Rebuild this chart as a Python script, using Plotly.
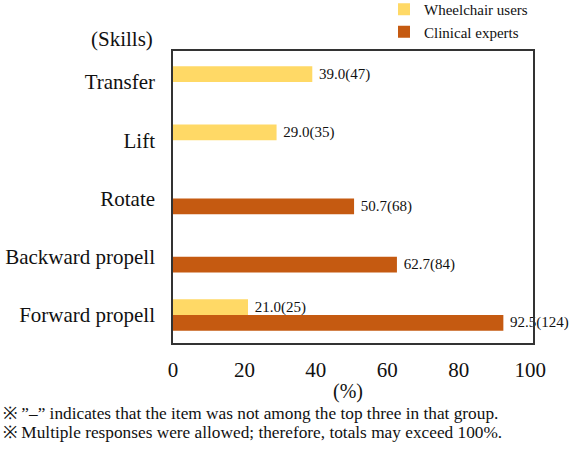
import plotly.graph_objects as go

skills = ["Forward propell", "Backward propell", "Rotate", "Lift", "Transfer"]
wheelchair_pct = [21.0, None, None, 29.0, 39.0]
wheelchair_n = [25, None, None, 35, 47]
expert_pct = [92.5, 62.7, 50.7, None, None]
expert_n = [124, 84, 68, None, None]

def labels(p, n):
    return ["\u00a0" + f"{a:.1f}({b})" if a is not None else "" for a, b in zip(p, n)]

FONT = "Liberation Serif, Times New Roman, serif"
YELLOW = "#FFD966"
ORANGE = "#C55A11"

fig = go.Figure()
fig.add_trace(go.Bar(
    y=skills, x=expert_pct, orientation="h", name="Clinical experts",
    marker=dict(color=ORANGE, line=dict(width=0)),
    text=labels(expert_pct, expert_n), textposition="outside",
    textfont=dict(family=FONT, size=15, color="#111"),
    cliponaxis=False, constraintext="none", legendrank=2,
))
fig.add_trace(go.Bar(
    y=skills, x=wheelchair_pct, orientation="h", name="Wheelchair users",
    marker=dict(color=YELLOW, line=dict(width=0)),
    text=labels(wheelchair_pct, wheelchair_n), textposition="outside",
    textfont=dict(family=FONT, size=15, color="#111"),
    cliponaxis=False, constraintext="none", legendrank=1,
))

W, H = 569, 459
L, R, T, B = 173, 36, 51, 116
pw, ph = W - L - R, H - T - B

def px(x):
    return (x - L) / pw

def py(y):
    return (H - B - y) / ph

fig.update_layout(
    width=W, height=H,
    margin=dict(l=L, r=R, t=T, b=B, autoexpand=False),
    paper_bgcolor="white", plot_bgcolor="white",
    barmode="group", bargap=0.46, bargroupgap=0,
    font=dict(family=FONT, color="#111"),
    showlegend=True,
    legend=dict(x=px(384), y=py(-7), xanchor="left", yanchor="top",
                font=dict(family=FONT, size=15), bgcolor="rgba(0,0,0,0)",
                traceorder="normal"),
    xaxis=dict(range=[0, 100.8], tickvals=[0, 20, 40, 60, 80, 100],
               showgrid=False, zeroline=False, showline=True, mirror=True,
               linecolor="#333", linewidth=1.5, ticks="",
               tickfont=dict(family=FONT, size=21), ticklabelstandoff=7),
    yaxis=dict(range=[-0.48, 4.53], showgrid=False, zeroline=False,
               showline=True, mirror=True, linecolor="#333", linewidth=1.5,
               ticks="", tickfont=dict(family=FONT, size=21),
               ticklabelstandoff=12),
    annotations=[
        dict(text="(Skills)", x=px(155), y=py(39), xref="paper", yref="paper",
             xanchor="right", yanchor="middle", showarrow=False,
             font=dict(family=FONT, size=21)),
        dict(text="(%)", x=px(348), y=py(391), xref="paper", yref="paper",
             xanchor="center", yanchor="middle", showarrow=False,
             font=dict(family=FONT, size=20)),
        dict(text="※ \u201d\u2013\u201d indicates that the item was not among the top three in that group.",
             x=px(1), y=py(413), xref="paper", yref="paper",
             xanchor="left", yanchor="middle", showarrow=False,
             font=dict(family=FONT, size=17.3)),
        dict(text="※ Multiple responses were allowed; therefore, totals may exceed 100%.",
             x=px(1), y=py(432), xref="paper", yref="paper",
             xanchor="left", yanchor="middle", showarrow=False,
             font=dict(family=FONT, size=17.3)),
    ],
)

fig.write_html("out.html")
